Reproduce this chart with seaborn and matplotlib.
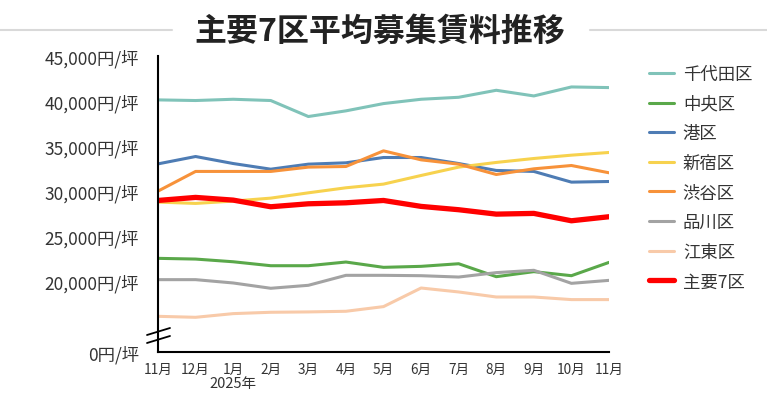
import numpy as np
import pandas as pd
import matplotlib.pyplot as plt
import seaborn as sns

# months Nov 2024 - Nov 2025
months = ['11月', '12月', '1月', '2月', '3月', '4月', '5月', '6月', '7月', '8月', '9月', '10月', '11月']

chiyoda = [40150, 40080, 40220, 40080, 38300, 38930, 39740, 40220, 40440, 41220, 40590, 41590, 41520]
chuo = [22520, 22440, 22140, 21700, 21700, 22110, 21520, 21630, 21920, 20480, 21040, 20590, 22070]
minato = [33030, 33850, 33070, 32440, 33000, 33150, 33740, 33740, 33070, 32300, 32190, 31000, 31070]
shinjuku = [28780, 28630, 28890, 29220, 29810, 30370, 30780, 31740, 32670, 33190, 33630, 34000, 34300]
shibuya = [30000, 32190, 32190, 32190, 32670, 32740, 34480, 33480, 33000, 31850, 32480, 32850, 32040]
shinagawa = [20150, 20150, 19780, 19190, 19520, 20630, 20630, 20590, 20440, 20930, 21190, 19740, 20070]
koto = [16070, 15960, 16370, 16520, 16560, 16630, 17150, 19220, 18780, 18220, 18220, 17930, 17930]
major7 = [28960, 29300, 29000, 28260, 28590, 28700, 28960, 28300, 27930, 27440, 27520, 26700, 27150]

names = ['千代田区', '中央区', '港区', '新宿区', '渋谷区', '品川区', '江東区', '主要7区']
series = [chiyoda, chuo, minato, shinjuku, shibuya, shinagawa, koto, major7]
colors = ['#80c3b9', '#5aa84a', '#4e7cb4', '#f7d24e', '#f7923a', '#a3a3a3', '#f8caa9', '#ff0000']
widths = [2.2, 2.2, 2.2, 2.2, 2.2, 2.2, 2.2, 3.8]

ytick_vals = [12100, 20000, 25000, 30000, 35000, 40000, 45000]
ytick_labels = ['0円/坪', '20,000円/坪', '25,000円/坪', '30,000円/坪', '35,000円/坪', '40,000円/坪', '45,000円/坪']

rows = []
for n, vals in zip(names, series):
    for i, v in enumerate(vals):
        rows.append({'区': n, 'idx': i, '賃料': v})
df = pd.DataFrame(rows)

sns.set_style('white')
plt.rcParams['font.family'] = ['Noto Sans CJK JP', 'DejaVu Sans']

fig = plt.figure(figsize=(7.67, 4.02), dpi=100)
ax = fig.add_axes([158/767, 1-353/402, (609-158)/767, (353-57.3)/402])

for n, c, w in zip(names, colors, widths):
    sns.lineplot(data=df[df['区'] == n], x='idx', y='賃料', color=c, linewidth=w, label=n, ax=ax)

ax.set_xlim(0, 12)
ax.set_ylim(12100, 45000)
ax.set_xticks(range(len(months)))
ax.set_xticklabels(months, fontsize=9.8, color='#333333')
ax.set_yticks(ytick_vals)
ax.set_yticklabels(ytick_labels, fontsize=12.5, color='#333333')
ax.set_xlabel('')
ax.set_ylabel('')
ax.tick_params(axis='y', length=4.5, width=1.2, color='black', pad=9)
ax.tick_params(axis='x', length=0, pad=7)
for s in ['top', 'right']:
    ax.spines[s].set_visible(False)
for s in ['left', 'bottom']:
    ax.spines[s].set_color('black')
    ax.spines[s].set_linewidth(1.5)

ax.text(2, -0.105, '2025年', transform=ax.get_xaxis_transform(), ha='center', va='center',
        fontsize=10.5, color='#333333')

# axis break marks
for yy in [329, 337]:
    y0 = (353 - (yy + 7)) / (353 - 57.3)
    y1 = (353 - yy) / (353 - 57.3)
    ax.plot([-11/451, 12/451], [y0, y1], transform=ax.transAxes, color='black', lw=1.3, clip_on=False)

leg = ax.legend(loc='upper left', bbox_to_anchor=(649/767, 1-66/402), bbox_transform=fig.transFigure,
                frameon=False, fontsize=12.5, handlelength=1.45, handletextpad=0.5,
                labelspacing=0.67, borderpad=0, borderaxespad=0)
for t in leg.get_texts():
    t.set_color('#333333')

fig.text(380/767, 1-32/402, '主要7区平均募集賃料推移', ha='center', va='center',
         fontsize=23, fontweight='bold', color='#222222')
fig.add_artist(plt.Line2D([0, 172/767], [1-31/402, 1-31/402], color='#d9d9d9', lw=1.5))
fig.add_artist(plt.Line2D([590/767, 1], [1-31/402, 1-31/402], color='#d9d9d9', lw=1.5))

fig.savefig('out.png', dpi=100)
